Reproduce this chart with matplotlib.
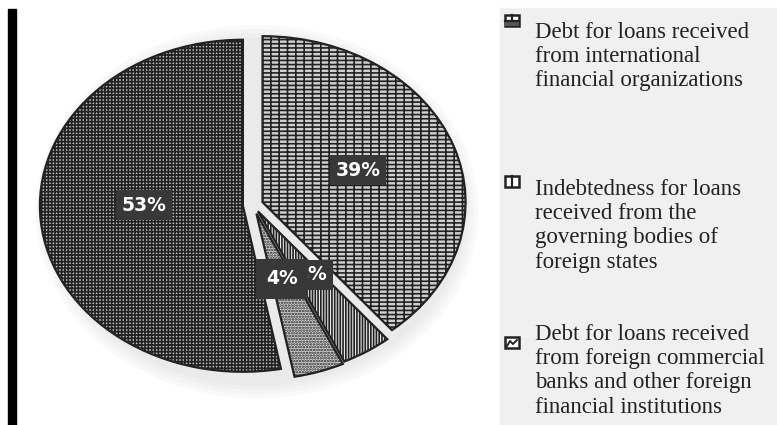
import matplotlib
matplotlib.use("Agg")
import matplotlib.pyplot as plt
from matplotlib.patches import Rectangle, Ellipse

# shares of external debt by creditor type, clockwise from 12 o'clock
shares = [39, 4, 4, 53]
explode = [0.05, 0.045, 0.055, 0.05]
faces = ["#cfcfcf", "#e6e6e6", "#d6d6d6", "#bdbdbd"]
hatches = ["----||", "||||||", "......", "+++++"]
label_pos = [(358, 170), (311, 275), (282, 279), (144, 205)]
label_pad = [0.3, 0.3, 0.55, 0.3]

legend_labels = [
    "Debt for loans received\nfrom international\nfinancial organizations",
    "Indebtedness for loans\nreceived from the\ngoverning bodies of\nforeign states",
    "Debt for loans received\nfrom foreign commercial\nbanks and other foreign\nfinancial institutions",
]
legend_y = [22, 179, 324]
swatch_y = [15, 176, 337]

W, H = 777, 425
fig = plt.figure(figsize=(W / 100, H / 100), dpi=100)

# background layer in pixel units
ov = fig.add_axes([0, 0, 1, 1])
ov.set_xlim(0, W)
ov.set_ylim(H, 0)
ov.axis("off")
ov.add_patch(Rectangle((8, 9), 8, H - 9, color="black"))
ov.add_patch(Rectangle((500, 8), W - 500, H - 8, color="#f0f0f0"))

# pie centre and radii in pixels (ellipse)
cx, cy, rx, ry = 253, 205, 203, 166
lim = 1.3
ax = fig.add_axes([(cx - lim * rx) / W, (H - cy - lim * ry) / H,
                   2 * lim * rx / W, 2 * lim * ry / H])

plt.rcParams["hatch.linewidth"] = 1.2

# soft halo under the pie
for k in range(4):
    ax.add_patch(Ellipse((0.02, -0.04), 2 * (1.03 + 0.02 * k), 2 * (1.05 + 0.025 * k),
                         color="#999999", alpha=0.05, lw=0, zorder=0))

wedges, _ = ax.pie(shares, explode=explode, startangle=90, counterclock=False,
                   colors=faces, wedgeprops=dict(edgecolor="#222222", linewidth=1.6))
for w, h in zip(wedges, hatches):
    w.set_hatch(h)
    w.set_zorder(2)
ax.set_aspect("auto")
ax.set_xlim(-lim, lim)
ax.set_ylim(-lim, lim)
ax.axis("off")

# value boxes; the left 4% box is drawn last and hides part of its neighbour
order = [0, 3, 1, 2]
for i in order:
    x, y = label_pos[i]
    fig.text(x, y, f"{shares[i]}%", transform=ov.transData, ha="center", va="center",
             color="white", fontsize=13.5, fontweight="bold", family="DejaVu Sans",
             bbox=dict(boxstyle=f"square,pad={label_pad[i]}", fc="#383838", ec="none"),
             zorder=5 + order.index(i))

# legend swatches
def swatch(x, y, kind):
    ov.add_patch(Rectangle((x, y), 14, 11, fc="white", ec="#222222", lw=1.8))
    if kind == 0:
        ov.plot([x, x + 14], [y + 5.5, y + 5.5], color="#222222", lw=1.6)
        ov.plot([x + 7, x + 7], [y, y + 5.5], color="#222222", lw=1.6)
        ov.add_patch(Rectangle((x, y + 5.5), 14, 5.5, fc="#555555", ec="none"))
    elif kind == 1:
        ov.plot([x + 7, x + 7], [y, y + 11], color="#222222", lw=1.6)
    else:
        ov.plot([x + 2, x + 5, x + 8, x + 12], [y + 9, y + 4, y + 7, y + 3], color="#222222", lw=1.4)

for k, (lab, y) in enumerate(zip(legend_labels, legend_y)):
    swatch(505, swatch_y[k], k)
    ov.text(535, y, lab, ha="left", va="top", fontsize=16.5, family="Liberation Serif",
            color="#222222", linespacing=1.2)

fig.savefig("out.png", dpi=100)
